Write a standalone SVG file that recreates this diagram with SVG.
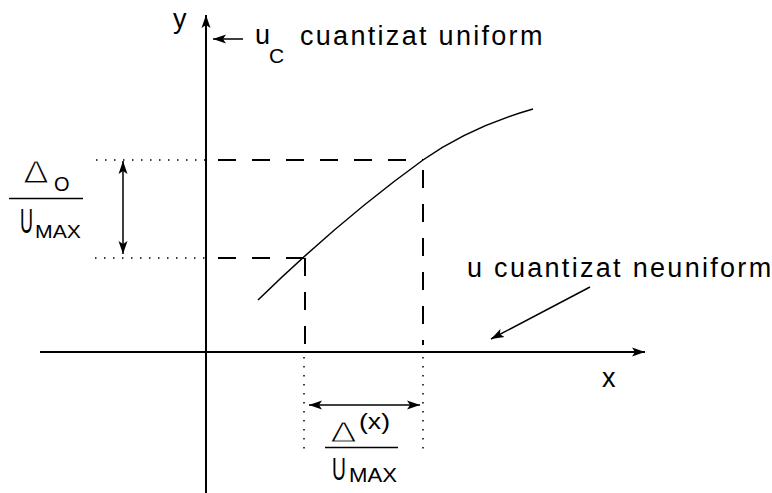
<svg xmlns="http://www.w3.org/2000/svg" width="772" height="493" viewBox="0 0 772 493">
<defs>
<style>
text{font-family:"Liberation Sans",Arial,sans-serif;fill:#000}
.ax{stroke:#000;stroke-width:2;fill:none}
.ln{stroke:#000;stroke-width:1.5;fill:none}
.dash{stroke:#000;stroke-width:2;fill:none;stroke-dasharray:18 16}
.dot{stroke:#000;stroke-width:1.5;fill:none;stroke-dasharray:1.5 7.5}
.lbl{font-size:27px;letter-spacing:2.3px}
.delta{font-family:"DejaVu Sans","Liberation Sans",sans-serif;stroke:#fff;stroke-width:1.2px}
</style>
<marker id="ah" markerUnits="userSpaceOnUse" markerWidth="14" markerHeight="10" refX="13" refY="5" orient="auto-start-reverse">
<path d="M0,0.5 L13,5 L0,9.5 L3,5 Z" fill="#000"/>
</marker>
</defs>
<rect width="772" height="493" fill="#fff"/>

<g id="axes">
<line class="ax" x1="206" y1="493" x2="206" y2="15" marker-end="url(#ah)"/>
<line class="ax" x1="40" y1="352" x2="645" y2="352" marker-end="url(#ah)"/>
<text class="lbl" x="173" y="28">y</text>
<text class="lbl" x="602" y="387">x</text>
</g>

<g id="curve">
<path class="ln" d="M258,300 Q340,220 423,160 Q470,127 533,109"/>
</g>

<g id="guides">
<line class="dash" x1="208" y1="160" x2="423" y2="160" stroke-dashoffset="-10"/>
<line class="dash" x1="423" y1="160" x2="423" y2="345" stroke-dashoffset="-10"/>
<line class="dash" x1="208" y1="258" x2="305" y2="258" stroke-dashoffset="-10"/>
<line class="dash" x1="305" y1="258" x2="305" y2="345"/>
<line class="dot" x1="96" y1="160" x2="206" y2="160"/>
<line class="dot" x1="95" y1="258" x2="206" y2="258"/>
<line class="dot" x1="304" y1="357" x2="304" y2="454"/>
<line class="dot" x1="423" y1="357" x2="423" y2="454"/>
</g>

<g id="connectors">
<line class="ln" x1="243" y1="39" x2="213" y2="39" marker-end="url(#ah)"/>
<line class="ln" x1="590" y1="287" x2="491" y2="339" marker-end="url(#ah)"/>
<line class="ln" x1="123" y1="161" x2="123" y2="254" marker-start="url(#ah)" marker-end="url(#ah)"/>
<line class="ln" x1="309" y1="405" x2="420" y2="405" marker-start="url(#ah)" marker-end="url(#ah)"/>
</g>

<g id="label-uc">
<text class="lbl" x="255" y="44">u</text>
<text x="269" y="63" font-size="21">C</text>
<text class="lbl" x="300" y="45">cuantizat uniform</text>
</g>

<g id="label-neuniform">
<text class="lbl" x="467" y="277" letter-spacing="2.2">u cuantizat neuniform</text>
</g>

<g id="frac-left">
<text class="delta" x="23" y="183" font-size="31" textLength="26" lengthAdjust="spacingAndGlyphs">Δ</text>
<text x="54" y="191" font-size="20">O</text>
<line class="ln" x1="9" y1="198.5" x2="83" y2="198.5"/>
<text transform="translate(20,233) scale(0.5,1)" font-size="36">U</text>
<text x="35" y="238" font-size="18" textLength="46" lengthAdjust="spacingAndGlyphs">MAX</text>
</g>

<g id="frac-bottom">
<text class="delta" x="330" y="442" font-size="27" textLength="27" lengthAdjust="spacingAndGlyphs">Δ</text>
<text x="359" y="429" font-size="22" textLength="31" lengthAdjust="spacingAndGlyphs">(x)</text>
<line class="ln" x1="325" y1="447.5" x2="398" y2="447.5"/>
<text transform="translate(332,480) scale(0.62,1)" font-size="31">U</text>
<text x="349" y="482" font-size="19.5" textLength="48" lengthAdjust="spacingAndGlyphs">MAX</text>
</g>
</svg>
